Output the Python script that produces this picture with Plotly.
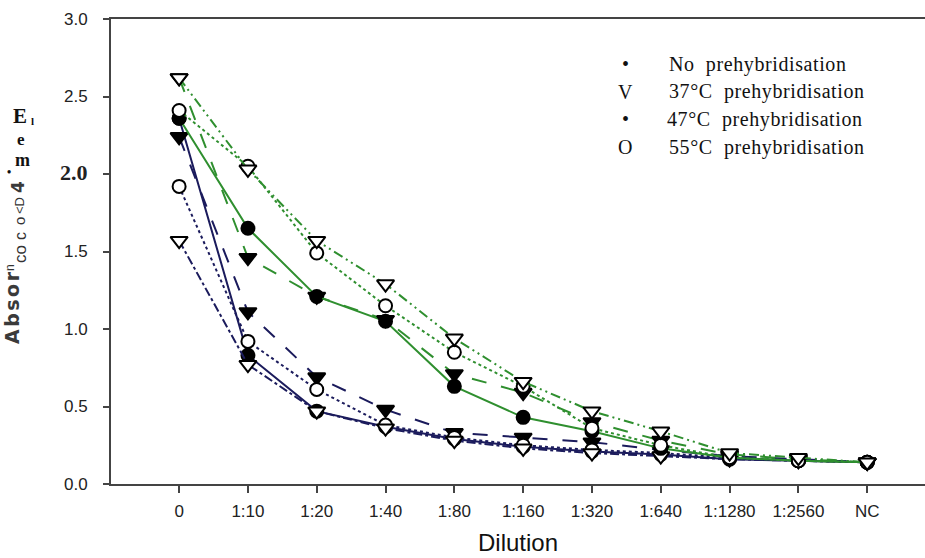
import plotly.graph_objects as go

dilutions = ["0", "1:10", "1:20", "1:40", "1:80", "1:160", "1:320", "1:640", "1:1280", "1:2560", "NC"]

# Blue group
blue_none = [2.36, 0.83, 0.47, 0.37, 0.29, 0.24, 0.21, 0.19, 0.16, 0.15, 0.14]
blue_37 = [2.24, 1.11, 0.69, 0.48, 0.33, 0.30, 0.27, 0.22, 0.18, 0.16, 0.14]
blue_47 = [1.92, 0.92, 0.61, 0.38, 0.30, 0.25, 0.22, 0.20, 0.17, 0.15, 0.14]
blue_55 = [1.57, 0.77, 0.47, 0.36, 0.28, 0.23, 0.20, 0.18, 0.16, 0.15, 0.14]

# Green group
green_none = [2.36, 1.65, 1.21, 1.05, 0.63, 0.43, 0.34, 0.23, 0.17, 0.15, 0.14]
green_37 = [2.62, 1.46, 1.21, 1.06, 0.71, 0.59, 0.40, 0.28, 0.19, 0.16, 0.14]
green_47 = [2.41, 2.05, 1.49, 1.15, 0.85, 0.63, 0.36, 0.25, 0.17, 0.15, 0.14]
green_55 = [2.62, 2.03, 1.57, 1.29, 0.94, 0.66, 0.47, 0.34, 0.20, 0.17, 0.14]

legend_symbols = ["•", "V", "•", "O"]
legend_labels = ["No  prehybridisation", "37°C  prehybridisation", "47°C  prehybridisation", "55°C  prehybridisation"]

NAVY = "#1b1b5c"
GREEN = "#2f8f2f"

series = [
    (blue_none, NAVY, "solid", "circle", "black", 13),
    (blue_37, NAVY, "longdash", "triangle-down", "black", 15),
    (blue_47, NAVY, "dot", "circle", "white", 13),
    (blue_55, NAVY, "dashdot", "triangle-down", "white", 15),
    (green_none, GREEN, "solid", "circle", "black", 13),
    (green_37, GREEN, "longdash", "triangle-down", "black", 15),
    (green_47, GREEN, "dot", "circle", "white", 13),
    (green_55, GREEN, "10px,4px,2px,4px,2px,4px", "triangle-down", "white", 15),
]

fig = go.Figure()
for vals, col, dash, sym, fill, size in series:
    fig.add_trace(go.Scatter(
        x=dilutions, y=vals, mode="lines+markers",
        line=dict(color=col, width=2, dash=dash),
        marker=dict(symbol=sym, size=size, color=fill,
                    line=dict(color="black", width=2)),
        showlegend=False,
    ))

L, T, W, H = 111, 19, 814, 465

fig.update_layout(
    width=925, height=558,
    margin=dict(l=L, r=925 - L - W, t=T, b=558 - T - H),
    paper_bgcolor="white", plot_bgcolor="white",
    xaxis=dict(
        type="category", range=[-0.99, 10.84],
        showline=True, linecolor="#444", linewidth=2, mirror=True,
        ticks="outside", ticklen=7, tickwidth=2, tickcolor="#444",
        tickfont=dict(family="Liberation Sans", size=17, color="#222"),
        ticklabelstandoff=4,
        showgrid=False, zeroline=False,
        title=dict(text="Dilution", font=dict(family="Liberation Sans", size=24, color="#111"), standoff=14),
    ),
    yaxis=dict(
        range=[0, 3.0], tickvals=[0, 0.5, 1.0, 1.5, 2.0, 2.5, 3.0],
        ticktext=["0.0", "0.5", "1.0", "1.5",
                  "<b><span style='font-family:Liberation Serif;font-size:22px'>2.0</span></b>",
                  "2.5", "3.0"],
        showline=True, linecolor="#444", linewidth=2,
        ticks="outside", ticklen=6, tickwidth=2, tickcolor="#444",
        tickfont=dict(family="Liberation Sans", size=17, color="#222"),
        ticklabelstandoff=12,
        showgrid=False, zeroline=False,
    ),
)


def px_to_paper(px, py):
    return (px - L) / W, 1 - (py - T) / H


# Plain-text legend
for i, (s, lab) in enumerate(zip(legend_symbols, legend_labels)):
    py = 64 + i * 27.7
    xs, ys = px_to_paper(625, py)
    fig.add_annotation(x=xs, y=ys, xref="paper", yref="paper", text=s, showarrow=False,
                       xanchor="center", yanchor="middle",
                       font=dict(family="Liberation Serif", size=20, color="#111"))
    xl, yl = px_to_paper(665 if i == 2 else 667, py)
    fig.add_annotation(x=xl, y=yl, xref="paper", yref="paper",
                       text=f"<span style='letter-spacing:0.6px'>{lab}</span>", showarrow=False,
                       xanchor="left", yanchor="middle",
                       font=dict(family="Liberation Serif", size=20, color="#111"))


# Axis label, set as separate fragments
def label(px, py, text, size, family, angle=0, bold=False, color="#222", spacing=0):
    xs, ys = px_to_paper(px, py)
    t = f"<b>{text}</b>" if bold else text
    if spacing:
        t = f"<span style='letter-spacing:{spacing}px'>{t}</span>"
    fig.add_annotation(x=xs, y=ys, xref="paper", yref="paper",
                       text=t, showarrow=False,
                       textangle=angle, xanchor="center", yanchor="middle",
                       font=dict(family=family, size=size, color=color))


label(12, 307, "Absor", 19, "DejaVu Sans", angle=-90, bold=True, color="#3a3a3a", spacing=2.5)
label(10, 268, "n", 12, "Liberation Sans", angle=-90, color="#333")
label(20, 254, "co", 17, "Liberation Sans", angle=-90, color="#333")
label(20, 236, "c", 16, "Liberation Sans", angle=-90, color="#333")
label(20, 221, "o", 15, "Liberation Sans", angle=-90, color="#333")
label(20, 206, "<D", 13, "Liberation Sans", angle=-90, color="#333")
label(18, 187, "4", 17, "DejaVu Sans", angle=-90, bold=True, color="#3a3a3a")
label(9, 172, "•", 12, "Liberation Serif", bold=True, color="#111")
label(22, 160, "m", 18, "Liberation Serif", bold=True, color="#111")
label(21, 139, "e", 17, "Liberation Serif", bold=True, color="#111")
label(20, 116, "E", 21, "Liberation Serif", bold=True, color="#111")
label(32, 121, "l", 11, "Liberation Serif", bold=True, color="#111")

fig.write_html("out.html")
